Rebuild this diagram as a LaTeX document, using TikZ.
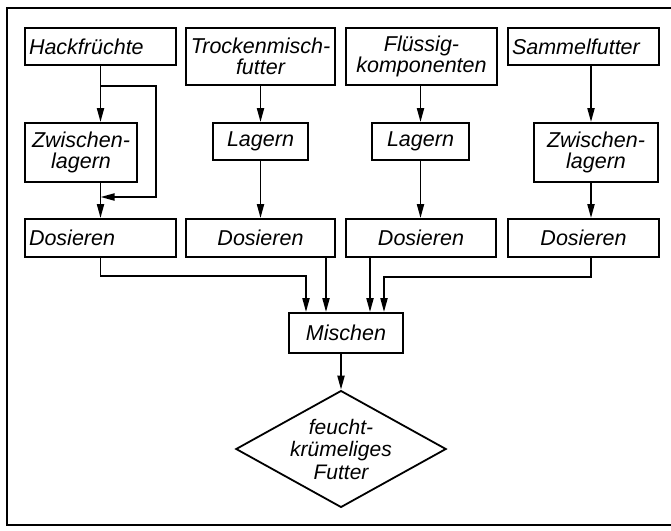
\documentclass[tikz,border=0pt]{standalone}
\usepackage{fontspec}
\setmainfont{Liberation Sans}
\usepackage{tikz}
\usetikzlibrary{arrows.meta,positioning,shapes.geometric}
\tikzset{every picture/.style={line width=1.8pt}}
\newcommand{\lettering}{\fontsize{21.5}{21}\selectfont\itshape}
\tikzset{
  kasten/.style={draw,inner xsep=4pt,inner ysep=2pt,align=center,font=\lettering},
  links/.style={align=left,text width=#1},
  pfeil/.style={line width=1.9pt,-{Triangle[length=14pt,width=7pt]}}
}

\begin{document}
\begin{tikzpicture}[x=1pt,y=-1pt]
\useasboundingbox (0,0) rectangle (671,530);
\draw[line width=2.2pt] (671,8) -- (7,8) -- (7,525) -- (671,525);
%
\node[kasten,links=143pt,minimum width=151pt,minimum height=37pt] (hack) at (100.5,46.5) {Hackfrüchte};
\node[kasten,minimum width=149pt,minimum height=57pt] (trocken) at (260.5,56.5) {Trockenmisch-\\futter};
\node[kasten,minimum width=151pt,minimum height=57pt] (fluessig) at (421.5,56.5) {Flüssig-\\komponenten};
\node[kasten,links=143pt,minimum width=151pt,minimum height=37pt] (sammel) at (583.5,46.5) {Sammelfutter};
%
\node[kasten,minimum width=112pt,minimum height=59pt] (zwi1) at (81,152.5) {Zwischen-\\lagern};
\node[kasten,minimum width=95pt,minimum height=37pt] (lag2) at (260.5,141.5) {Lagern};
\node[kasten,minimum width=97pt,minimum height=37pt] (lag3) at (420.5,141.5) {Lagern};
\node[kasten,minimum width=124pt,minimum height=59pt] (zwi4) at (596,152.5) {Zwischen-\\lagern};
%
\node[kasten,links=143pt,minimum width=151pt,minimum height=38pt] (dos1) at (100.5,238) {Dosieren};
\node[kasten,minimum width=149pt,minimum height=38pt] (dos2) at (260.5,238) {Dosieren};
\node[kasten,minimum width=150pt,minimum height=38pt] (dos3) at (421,238) {Dosieren};
\node[kasten,minimum width=151pt,minimum height=38pt] (dos4) at (583.5,238) {Dosieren};
%
\node[kasten,minimum width=114pt,minimum height=40pt] (misch) at (346,333) {Mischen};
\node[draw,diamond,aspect=1.8,inner sep=0pt,minimum width=207pt,minimum height=114pt,align=center,font=\fontsize{21}{22.5}\selectfont\itshape] (futter) at (341,449) {feucht-\\krümeliges\\Futter};
%
\coordinate (abzw) at (100.5,86);
\coordinate (umw) at (156,197);
\coordinate (einm) at (100.5,197);
\coordinate (s4) at (591,0);
\coordinate (k1) at (306,276);
\coordinate (k4) at (384,277);
%
\draw[pfeil] (hack.south) -- (hack.south |- zwi1.north);
\draw[pfeil] (abzw) -| (umw) -- (einm);
\draw[pfeil] (zwi1.south -| hack) -- (dos1.north);
\draw[pfeil] (trocken.south) -- (lag2.north);
\draw[pfeil] (lag2.south) -- (dos2.north);
\draw[pfeil] (fluessig.south -| lag3) -- (lag3.north);
\draw[pfeil] (lag3.south) -- (lag3.south |- dos3.north);
\draw[pfeil] (sammel.south -| s4) -- (zwi4.north -| s4);
\draw[pfeil] (zwi4.south -| s4) -- (dos4.north -| s4);
%
\draw[pfeil] (dos1.south) |- (k1) -- (k1 |- misch.north);
\draw[pfeil] ([xshift=65.5pt]dos2.south) -- ([xshift=-20pt]misch.north);
\draw[pfeil] ([xshift=-51pt]dos3.south) -- ([xshift=24pt]misch.north);
\draw[pfeil] (dos4.south -| s4) |- (k4) -- (k4 |- misch.north);
\draw[pfeil] (misch.south -| futter) -- (futter.north);
\end{tikzpicture}
\end{document}
